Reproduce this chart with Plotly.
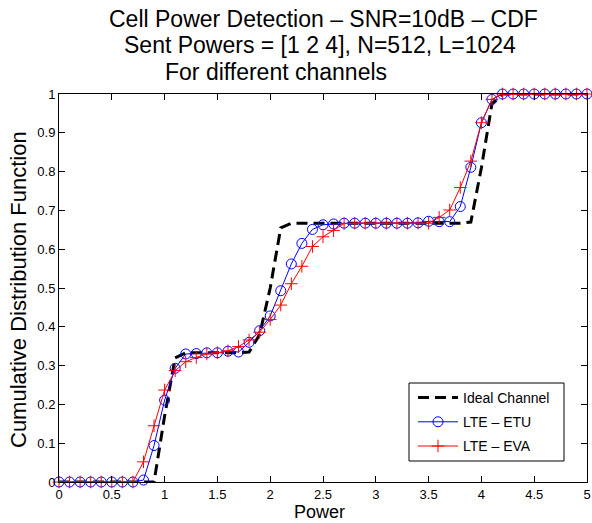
import plotly.graph_objects as go

power = [0.0, 0.1, 0.2, 0.3, 0.4, 0.5, 0.6, 0.7, 0.8, 0.9,
         1.0, 1.1, 1.2, 1.3, 1.4, 1.5, 1.6, 1.7, 1.8, 1.9,
         2.0, 2.1, 2.2, 2.3, 2.4, 2.5, 2.6, 2.7, 2.8, 2.9,
         3.0, 3.1, 3.2, 3.3, 3.4, 3.5, 3.6, 3.7, 3.8, 3.9,
         4.0, 4.1, 4.2, 4.3, 4.4, 4.5, 4.6, 4.7, 4.8, 4.9, 5.0]

ideal = [0, 0, 0, 0, 0, 0, 0, 0, 0, 0,
         0.17, 0.32, 0.333, 0.333, 0.333, 0.333, 0.333, 0.333, 0.335, 0.38,
         0.50, 0.655, 0.667, 0.667, 0.667, 0.667, 0.667, 0.667, 0.667, 0.667,
         0.667, 0.667, 0.667, 0.667, 0.667, 0.667, 0.667, 0.667, 0.667, 0.67,
         0.81, 0.975, 1, 1, 1, 1, 1, 1, 1, 1, 1]

etu = [0, 0, 0, 0, 0, 0, 0, 0, 0.005, 0.094,
       0.211, 0.293, 0.330, 0.331, 0.333, 0.333, 0.337, 0.335, 0.360, 0.390,
       0.428, 0.493, 0.562, 0.615, 0.651, 0.663, 0.665, 0.667, 0.667, 0.667,
       0.667, 0.667, 0.667, 0.667, 0.668, 0.672, 0.671, 0.671, 0.710, 0.811,
       0.926, 0.986, 1, 1, 1, 1, 1, 1, 1, 1, 1]

eva = [0, 0, 0, 0, 0, 0, 0, 0, 0.052, 0.145,
       0.237, 0.287, 0.310, 0.321, 0.330, 0.333, 0.338, 0.349, 0.366, 0.386,
       0.419, 0.456, 0.511, 0.556, 0.607, 0.632, 0.648, 0.666, 0.667, 0.667,
       0.667, 0.667, 0.667, 0.667, 0.667, 0.667, 0.682, 0.701, 0.759, 0.827,
       0.926, 0.986, 1, 1, 1, 1, 1, 1, 1, 1, 1]

title_lines = ["Cell Power Detection \u2013 SNR=10dB \u2013 CDF",
               "Sent Powers = [1 2 4], N=512, L=1024",
               "For different channels"]

x_ticks = [0, 0.5, 1, 1.5, 2, 2.5, 3, 3.5, 4, 4.5, 5]
x_tick_text = ["0", "0.5", "1", "1.5", "2", "2.5", "3", "3.5", "4", "4.5", "5"]
y_ticks = [0, 0.1, 0.2, 0.3, 0.4, 0.5, 0.6, 0.7, 0.8, 0.9, 1]
y_tick_text = ["0", "0.1", "0.2", "0.3", "0.4", "0.5", "0.6", "0.7", "0.8", "0.9", "1"]

FONT = "Liberation Sans, Arial, Helvetica, sans-serif"

fig = go.Figure()
fig.add_trace(go.Scatter(x=power, y=ideal, mode="lines", name="Ideal Channel",
                         legendgroup="g1", cliponaxis=False,
                         line=dict(color="black", width=3, dash="11px,6px")))
fig.add_trace(go.Scatter(x=power, y=etu, mode="lines+markers", name="LTE \u2013 ETU",
                         legendgroup="g2", cliponaxis=False,
                         line=dict(color="blue", width=1),
                         marker=dict(symbol="circle-open", size=10, color="blue",
                                     line=dict(color="blue", width=1))))
fig.add_trace(go.Scatter(x=power, y=eva, mode="lines+markers", name="LTE \u2013 EVA",
                         legendgroup="g3", cliponaxis=False,
                         line=dict(color="red", width=1),
                         marker=dict(symbol="cross-thin-open", size=9, color="red",
                                     line=dict(color="red", width=1))))

W, H = 592, 523
PL, PR, PT, PB = 59, 587, 94, 482   # plot area in page pixels
L, R, T, B = PL, W - PR, PT, H - PB
pw, ph = PR - PL, PB - PT

def ypaper(ypx):
    return (PB - ypx) / ph

def xpaper(xpx):
    return (xpx - PL) / pw

annotations = []
for txt, xc, yc, anc in zip(title_lines, [323, 320, 163], [19, 45, 72],
                            ["center", "center", "left"]):
    annotations.append(dict(text=txt, x=xpaper(xc), y=ypaper(yc), xref="paper", yref="paper",
                            showarrow=False, xanchor=anc, yanchor="middle",
                            font=dict(family=FONT, size=23, color="black")))
annotations.append(dict(text="Power", x=xpaper(319), y=ypaper(512), xref="paper", yref="paper",
                        showarrow=False, xanchor="center", yanchor="middle",
                        font=dict(family=FONT, size=18, color="black")))
annotations.append(dict(text="Cumulative Distribution Function", x=xpaper(18), y=ypaper(290),
                        xref="paper", yref="paper", textangle=-90,
                        showarrow=False, xanchor="center", yanchor="middle",
                        font=dict(family=FONT, size=22, color="black")))

# legend frame (box a bit wider than the auto-sized legend)
fig.add_shape(type="rect", xref="paper", yref="paper",
              x0=xpaper(409), x1=xpaper(564), y0=ypaper(461), y1=ypaper(383),
              fillcolor="white", line=dict(color="black", width=1), layer="above")

fig.update_layout(
    width=W, height=H,
    margin=dict(l=L, r=R, t=T, b=B, autoexpand=False),
    paper_bgcolor="white", plot_bgcolor="white",
    font=dict(family=FONT, size=13, color="black"),
    annotations=annotations,
    showlegend=True,
    legend=dict(x=xpaper(413), y=ypaper(382), xanchor="left", yanchor="top",
                bgcolor="rgba(0,0,0,0)", borderwidth=0,
                font=dict(family=FONT, size=14, color="black"),
                tracegroupgap=3, itemwidth=40),
    xaxis=dict(range=[0, 5], tickvals=x_ticks, ticktext=x_tick_text,
               ticks="inside", ticklen=6, tickcolor="black", mirror="ticks",
               showline=True, linecolor="black", linewidth=1, showgrid=False,
               zeroline=False, automargin=False,
               tickfont=dict(family=FONT, size=13)),
    yaxis=dict(range=[0, 1], tickvals=y_ticks, ticktext=y_tick_text,
               ticks="inside", ticklen=6, tickcolor="black", mirror="ticks",
               showline=True, linecolor="black", linewidth=1, showgrid=False,
               zeroline=False, automargin=False,
               tickfont=dict(family=FONT, size=13)),
)

fig.write_html("out.html", config={"displayModeBar": False},
               post_script="document.body.style.margin='0';document.body.style.overflow='hidden';")
